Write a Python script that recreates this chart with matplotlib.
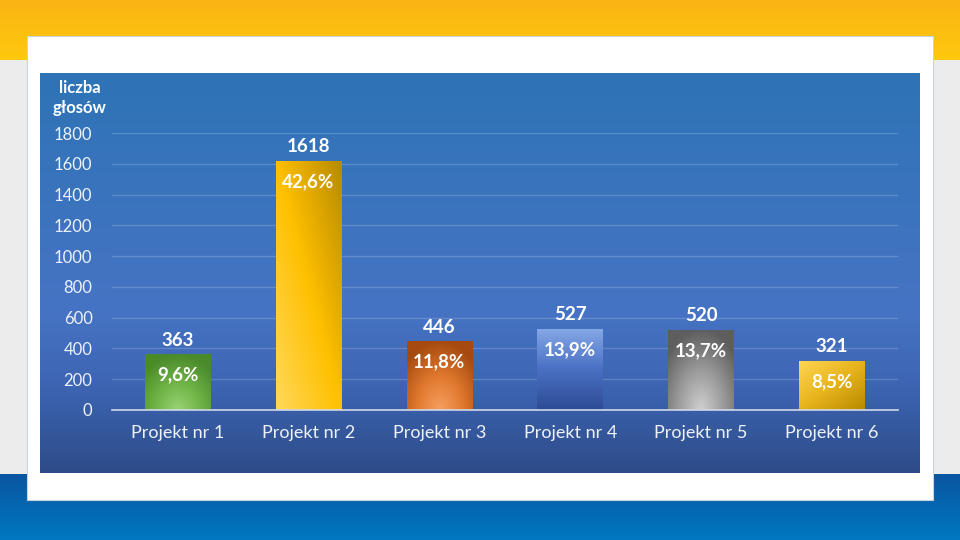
import numpy as np
import matplotlib.pyplot as plt
from matplotlib.colors import LinearSegmentedColormap, to_rgb

categories = ['Projekt nr 1', 'Projekt nr 2', 'Projekt nr 3',
              'Projekt nr 4', 'Projekt nr 5', 'Projekt nr 6']
votes = [363, 1618, 446, 527, 520, 321]
shares = ['9,6%', '42,6%', '11,8%', '13,9%', '13,7%', '8,5%']
yticks = [0, 200, 400, 600, 800, 1000, 1200, 1400, 1600, 1800]

# (far colour, mid colour, near colour, gradient kind) per bar
bar_grad = [
    ('#4a8a2a', '#6fb246', '#9ad474', 'radial'),
    ('#b88a00', '#ffc000', '#ffd85a', 'diag'),
    ('#a54a10', '#e0782e', '#f6a060', 'radial'),
    ('#86a8e6', '#4a70c4', '#2d4c96', 'v'),
    ('#5e5e5e', '#9a9a9a', '#d0d0d0', 'radial'),
    ('#ffd654', '#e8b41c', '#b98a00', 'diag2'),
]

plt.rcParams['font.family'] = ['Lato', 'DejaVu Sans']

fig = plt.figure(figsize=(9.6, 5.4), dpi=100)
bg = fig.add_axes([0, 0, 1, 1])
bg.set_axis_off()


def vgrad(ax, extent, stops, n=256, **kw):
    cmap = LinearSegmentedColormap.from_list('g', stops)
    img = np.linspace(0, 1, n)[:, None]
    return ax.imshow(img, cmap=cmap, extent=extent, aspect='auto',
                     interpolation='bicubic', **kw)


bg.add_patch(plt.Rectangle((0, 0), 960, 540, color='#ececec', zorder=0))
vgrad(bg, (0, 960, 60, 0), ['#fbb414', '#fec90e'], zorder=1)
vgrad(bg, (0, 960, 540, 474), ['#0a55a0', '#0078c2'], zorder=1)
bg.add_patch(plt.Rectangle((27, 36), 906, 464, facecolor='white',
                           edgecolor='#c8d4dc', lw=0.8, zorder=2))
vgrad(bg, (40, 920, 473, 73),
      [(0, '#2e74b6'), (0.6, '#4673c4'), (0.8, '#3c63b0'), (1, '#2d4b88')],
      zorder=3)
bg.set_xlim(0, 960)
bg.set_ylim(540, 0)

bg.text(80, 88, 'liczba', color='white', fontsize=12, fontweight='bold',
        ha='center', va='center', zorder=5)
bg.text(80, 108, 'głosów', color='white', fontsize=12, fontweight='bold',
        ha='center', va='center', zorder=5)

ax = fig.add_axes([112 / 960, 1 - 410 / 540, 785.5 / 960, 277 / 540])
ax.set_facecolor('none')
x = np.arange(len(categories))
bars = ax.bar(x, votes, width=0.5, color='none', zorder=3)

n = 100
yy, xx = np.mgrid[0:1:n * 1j, 0:1:n * 1j]   # yy: 0 bottom -> 1 top
for b, (c1, cm, c2, kind) in zip(bars, bar_grad):
    x0, w, h = b.get_x(), b.get_width(), b.get_height()
    if kind == 'v':
        t = yy
    elif kind == 'radial':
        t = np.clip(np.sqrt(((xx - 0.5) * 1.4) ** 2 + yy ** 2), 0, 1)
    elif kind == 'diag':
        t = (xx + yy) / 2
    else:
        t = ((1 - xx) + yy) / 2
    cmap = LinearSegmentedColormap.from_list('b', [c2, cm, c1])
    rgb = cmap(t)[..., :3]
    im = ax.imshow(rgb, extent=(x0, x0 + w, 0, h), aspect='auto',
                   origin='lower', zorder=2, interpolation='bilinear')
    im.set_clip_path(b)

ax.set_xlim(-0.5, len(categories) - 0.5)
ax.set_ylim(0, 1800)

for xi, v, s in zip(x, votes, shares):
    ax.annotate(str(v), (xi, v), xytext=(0, 4), textcoords='offset points',
                ha='center', va='bottom', color='white', fontsize=13.5,
                fontweight='bold', zorder=5)
    ax.annotate(s, (xi, v), xytext=(0, -15), textcoords='offset points',
                ha='center', va='center', color='white', fontsize=13.5,
                fontweight='bold', zorder=5)

ax.set_yticks(yticks)
ax.set_xticks(x)
ax.set_xticklabels(categories, fontsize=13, color='#eef2fa')
ax.tick_params(axis='y', labelsize=12, labelcolor='#eef2fa', length=0, pad=14)
ax.tick_params(axis='x', length=0, pad=11)
ax.grid(axis='y', color='#ffffff', alpha=0.18, lw=1, zorder=0)
for sp in ['top', 'right', 'left']:
    ax.spines[sp].set_visible(False)
ax.spines['bottom'].set_color('#d0d8e8')
ax.spines['bottom'].set_linewidth(1.2)

fig.savefig('out.png', dpi=100)
